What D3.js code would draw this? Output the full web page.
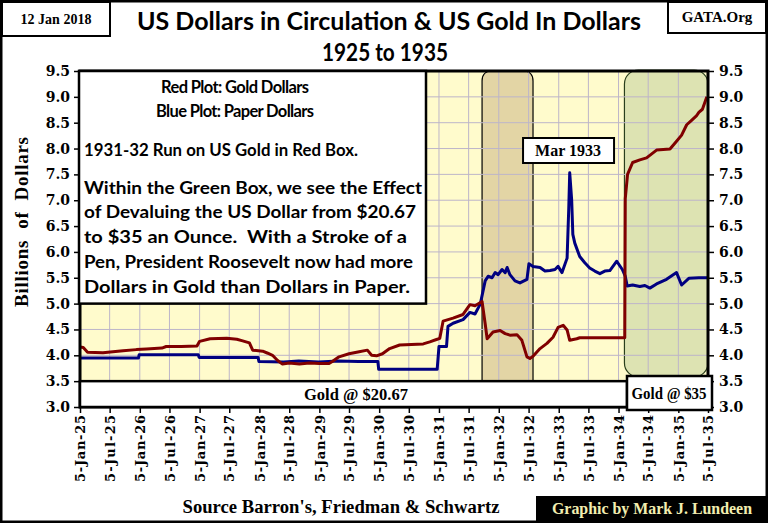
<!DOCTYPE html>
<html>
<head>
<meta charset="utf-8">
<script src="https://cdn.jsdelivr.net/npm/d3@7"></script>
<style>
  body { margin: 0; background: #fff; }
  svg { display: block; }
</style>
</head>
<body>
<div id="chart"></div>
<script>
// gold dollars (red plot), billions
var goldDates = ["1925-01-05","1925-01-25","1925-02-20","1925-05-25","1925-07-25","1925-09-25","1925-12-15",
  "1926-02-15","1926-05-20","1926-06-15","1926-09-15","1926-12-20","1927-01-05","1927-03-10","1927-06-20",
  "1927-08-20","1927-09-25","1927-11-05","1927-11-25","1928-01-25","1928-02-25","1928-03-25","1928-04-25",
  "1928-05-25","1928-07-05","1928-09-05","1928-11-05","1929-01-05","1929-03-05","1929-03-25","1929-05-05",
  "1929-07-05","1929-09-05","1929-10-25","1929-11-20","1929-12-20","1930-01-25","1930-03-10","1930-05-10",
  "1930-10-01","1930-11-10","1930-12-25","1931-01-10","1931-01-30","1931-04-01","1931-06-01","1931-07-13",
  "1931-08-13","1931-09-25","1931-10-14","1931-10-26","1931-12-01","1932-01-13","1932-02-13","1932-03-13",
  "1932-04-25","1932-05-25","1932-06-25","1932-07-13","1932-08-01","1932-09-13","1932-10-25","1932-12-01",
  "1933-01-01","1933-02-01","1933-02-25","1933-03-13","1933-04-25","1933-05-13","1934-02-12","1934-02-15",
  "1934-03-01","1934-04-01","1934-05-15","1934-06-25","1934-08-25","1934-11-15","1934-12-25","1935-01-25",
  "1935-02-25","1935-03-25","1935-04-25","1935-05-10","1935-06-01","1935-06-28"];
var goldValues = [4.16,4.15,4.06,4.05,4.07,4.09,4.11,
  4.12,4.14,4.17,4.17,4.18,4.27,4.32,4.33,
  4.31,4.28,4.24,4.10,4.08,4.04,4.00,3.90,
  3.83,3.85,3.83,3.85,3.84,3.84,3.88,3.97,
  4.03,4.07,4.10,4.00,3.99,4.03,4.13,4.20,
  4.22,4.26,4.31,4.33,4.66,4.72,4.79,4.98,
  4.96,5.04,4.61,4.32,4.45,4.48,4.42,4.39,
  4.40,4.29,3.97,3.94,3.98,4.13,4.23,4.35,
  4.54,4.58,4.49,4.29,4.32,4.34,4.34,7.03,
  7.50,7.73,7.78,7.82,7.97,7.99,8.14,8.26,
  8.46,8.54,8.63,8.70,8.76,9.00];

// paper dollars (blue plot), billions
var paperDates = ["1925-01-05","1925-12-28","1926-01-01","1926-12-28","1927-01-02","1927-12-28","1928-01-02",
  "1928-06-01","1928-09-01","1929-01-01","1929-05-01","1929-09-01","1929-12-28","1930-01-02","1930-12-25",
  "1931-01-05","1931-02-20","1931-03-01","1931-04-01","1931-06-01","1931-07-13","1931-08-13","1931-09-14",
  "1931-10-14","1931-11-01","1931-11-25","1931-12-14","1932-01-01","1932-01-25","1932-02-13","1932-02-25",
  "1932-03-13","1932-04-13","1932-05-13","1932-06-13","1932-06-25","1932-07-07","1932-08-01","1932-09-13",
  "1932-10-13","1932-11-13","1932-12-13","1933-01-01","1933-01-25","1933-02-25","1933-03-07","1933-03-13",
  "1933-03-25","1933-04-01","1933-04-13","1933-05-13","1933-06-13","1933-07-13","1933-08-13","1933-09-13",
  "1933-10-13","1933-11-13","1933-12-25","1934-01-28","1934-02-15","1934-02-27","1934-04-01","1934-05-15",
  "1934-06-15","1934-07-15","1934-08-25","1934-10-25","1934-12-25","1935-01-25","1935-03-10","1935-05-10",
  "1935-07-01"];
var paperValues = [3.95,3.95,4.01,4.01,3.96,3.96,3.88,
  3.87,3.89,3.87,3.89,3.88,3.88,3.73,3.73,
  4.17,4.17,4.56,4.62,4.69,4.83,4.80,4.99,
  5.44,5.53,5.50,5.60,5.56,5.66,5.60,5.70,
  5.56,5.44,5.40,5.45,5.47,5.77,5.72,5.70,
  5.63,5.64,5.66,5.72,5.60,5.88,6.83,7.53,
  7.00,6.34,6.17,5.91,5.79,5.69,5.63,5.58,
  5.63,5.64,5.82,5.66,5.53,5.34,5.36,5.33,
  5.35,5.30,5.38,5.47,5.60,5.36,5.49,5.50,
  5.50];

var xTickDates = ["1925-01-05","1925-07-05","1926-01-05","1926-07-05","1927-01-05","1927-07-05","1928-01-05",
  "1928-07-05","1929-01-05","1929-07-05","1930-01-05","1930-07-05","1931-01-05","1931-07-05","1932-01-05",
  "1932-07-05","1933-01-05","1933-07-05","1934-01-05","1934-07-05","1935-01-05","1935-07-05"];
var yTicks = [3.0,3.5,4.0,4.5,5.0,5.5,6.0,6.5,7.0,7.5,8.0,8.5,9.0,9.5];

var redBoxDates = ["1931-09-25","1932-08-01"];
var greenBoxDates = ["1934-02-10","1935-07-05"];
var markDate = "1933-03-15";

var noteLines = ["1931-32 Run on US Gold in Red Box.",
  "Within the Green Box, we see the Effect",
  "of Devaluing the US Dollar from $20.67",
  "to $35 an Ounce.  With a Stroke of a",
  "Pen, President Roosevelt now had more",
  "Dollars in Gold than Dollars in Paper."];

var parse = d3.timeParse("%Y-%m-%d");
var fmtTick = d3.timeFormat("%-d-%b-%y");

var gold = goldDates.map(function(d, i) { return {date: parse(d), value: goldValues[i]}; });
var paper = paperDates.map(function(d, i) { return {date: parse(d), value: paperValues[i]}; });

var W = 768, H = 523;
var pL = 80, pR = 708, pT = 71, pB = 407;
var serif = "'Liberation Serif', 'DejaVu Serif', serif";
var serifWide = "'DejaVu Serif', 'Liberation Serif', serif";
var sans = "Lato, 'Open Sans', sans-serif";

var svg = d3.select("#chart").append("svg")
    .attr("width", W)
    .attr("height", H);

svg.append("rect").attr("width", W).attr("height", H).attr("fill", "#fff");

var x = d3.scaleTime()
    .domain([parse(xTickDates[0]), parse(xTickDates[xTickDates.length - 1])])
    .range([pL, pR]);
var y = d3.scaleLinear()
    .domain([3, 9.5])
    .range([pB, pT]);

// plot background
svg.append("rect")
    .attr("x", pL).attr("y", pT)
    .attr("width", pR - pL).attr("height", pB - pT)
    .attr("fill", "#fffbcc");

// red box (1931-32 run on gold)
var rx0 = x(parse(redBoxDates[0])), rx1 = x(parse(redBoxDates[1]));
svg.append("path")
    .attr("d", "M" + rx0 + "," + y(3.5) + "V" + (pT + 10) + "Q" + rx0 + "," + pT + " " + (rx0 + 10) + "," + pT +
      "H" + (rx1 - 10) + "Q" + rx1 + "," + pT + " " + rx1 + "," + (pT + 10) + "V" + y(3.5))
    .attr("fill", "#e3d5a5")
    .attr("stroke", "#000")
    .attr("stroke-width", 1.2);

// green box (devaluation)
var gx0 = x(parse(greenBoxDates[0])), gx1 = x(parse(greenBoxDates[1]));
svg.append("rect")
    .attr("x", gx0).attr("y", pT - 1)
    .attr("width", gx1 - gx0).attr("height", y(3.58) - pT + 1)
    .attr("rx", 14)
    .attr("fill", "#dde3b2")
    .attr("stroke", "#2a3f1c")
    .attr("stroke-width", 1.2);

// grid
var grid = svg.append("g").attr("stroke", "#bdb5c9").attr("stroke-width", 1);
grid.selectAll("line.v")
  .data(xTickDates.slice(1, -1))
  .enter().append("line")
    .attr("x1", function(d) { return x(parse(d)); })
    .attr("x2", function(d) { return x(parse(d)); })
    .attr("y1", pT).attr("y2", pB);
grid.selectAll("line.h")
  .data(yTicks.slice(1, -1))
  .enter().append("line")
    .attr("x1", pL).attr("x2", pR)
    .attr("y1", function(d) { return y(d); })
    .attr("y2", function(d) { return y(d); });

// lines
var line = d3.line()
    .x(function(d) { return x(d.date); })
    .y(function(d) { return y(d.value); });

svg.append("path")
    .datum(paper)
    .attr("fill", "none")
    .attr("stroke", "#000080")
    .attr("stroke-width", 3)
    .attr("stroke-linejoin", "round")
    .attr("d", line);

svg.append("path")
    .datum(gold)
    .attr("fill", "none")
    .attr("stroke", "#800000")
    .attr("stroke-width", 3)
    .attr("stroke-linejoin", "round")
    .attr("d", line);

// axes
var tickFont = function(g) {
  g.select(".domain").remove();
  g.selectAll("line").attr("stroke", "#000").attr("stroke-width", 1.5);
  g.selectAll("text").attr("font-family", serifWide).attr("font-weight", "bold")
    .attr("font-size", 14).attr("fill", "#000");
};

svg.append("g")
    .attr("transform", "translate(" + pL + ",0)")
    .call(d3.axisLeft(y).tickValues(yTicks).tickFormat(d3.format(".1f")).tickSize(6).tickPadding(4))
    .call(tickFont);

svg.append("g")
    .attr("transform", "translate(" + pR + ",0)")
    .call(d3.axisRight(y).tickValues(yTicks).tickFormat(d3.format(".1f")).tickSize(6).tickPadding(5))
    .call(tickFont);

var xAxis = svg.append("g")
    .attr("transform", "translate(0," + pB + ")")
    .call(d3.axisBottom(x).tickValues(xTickDates.map(parse)).tickFormat(fmtTick).tickSize(6))
    .call(tickFont);
xAxis.selectAll("text")
    .attr("transform", "rotate(-90)")
    .attr("text-anchor", "end")
    .attr("x", -8)
    .attr("y", 0)
    .attr("dy", "0.36em")
    .attr("font-size", 13)
    .attr("textLength", 67)
    .attr("lengthAdjust", "spacing");

// plot frame
svg.append("rect")
    .attr("x", pL).attr("y", pT)
    .attr("width", pR - pL).attr("height", pB - pT)
    .attr("fill", "none")
    .attr("stroke", "#000")
    .attr("stroke-width", 3);

// note box
svg.append("rect")
    .attr("x", pL - 1).attr("y", pT)
    .attr("width", 427 - pL).attr("height", y(5.0) - pT)
    .attr("fill", "#fff").attr("stroke", "#000").attr("stroke-width", 2.5);

svg.append("text")
    .attr("x", 235).attr("y", 93)
    .attr("text-anchor", "middle")
    .attr("font-family", sans).attr("font-weight", "bold").attr("font-size", 16.5)
    .attr("textLength", 148)
    .text("Red Plot: Gold Dollars");
svg.append("text")
    .attr("x", 235).attr("y", 117)
    .attr("text-anchor", "middle")
    .attr("font-family", sans).attr("font-weight", "bold").attr("font-size", 16.5)
    .attr("textLength", 158)
    .text("Blue Plot: Paper Dollars");

var noteY = [156, 194, 218, 243, 268, 293];
var noteW = [274, 338, 332, 323, 329, 326];
svg.selectAll("text.note")
  .data(noteLines)
  .enter().append("text")
    .attr("class", "note")
    .attr("x", 84)
    .attr("y", function(d, i) { return noteY[i]; })
    .attr("font-family", sans).attr("font-weight", "bold").attr("font-size", 16.5)
    .attr("textLength", function(d, i) { return noteW[i]; })
    .attr("lengthAdjust", "spacingAndGlyphs")
    .style("white-space", "pre")
    .text(function(d) { return d; });

// bottom boxes
svg.append("rect")
    .attr("x", pL).attr("y", y(3.5))
    .attr("width", 627 - pL).attr("height", pB - y(3.5))
    .attr("fill", "#fff").attr("stroke", "#000").attr("stroke-width", 2.5);
svg.append("text")
    .attr("x", 356).attr("y", 400)
    .attr("text-anchor", "middle")
    .attr("font-family", serif).attr("font-weight", "bold").attr("font-size", 16)
    .attr("textLength", 104).attr("lengthAdjust", "spacingAndGlyphs")
    .text("Gold @ $20.67");

svg.append("rect")
    .attr("x", 627).attr("y", 376)
    .attr("width", 85).attr("height", 34)
    .attr("fill", "#fff").attr("stroke", "#000").attr("stroke-width", 2.5);
svg.append("text")
    .attr("x", 669).attr("y", 399)
    .attr("text-anchor", "middle")
    .attr("font-family", serif).attr("font-weight", "bold").attr("font-size", 16)
    .attr("textLength", 75).attr("lengthAdjust", "spacingAndGlyphs")
    .text("Gold @ $35");

// Mar 1933 label
var mx = x(parse(markDate));
svg.append("rect")
    .attr("x", mx - 47).attr("y", 138)
    .attr("width", 91).attr("height", 25)
    .attr("fill", "#fff").attr("stroke", "#000").attr("stroke-width", 2);
svg.append("text")
    .attr("x", mx - 2).attr("y", 156)
    .attr("text-anchor", "middle")
    .attr("font-family", serif).attr("font-weight", "bold").attr("font-size", 16)
    .attr("textLength", 66).attr("lengthAdjust", "spacingAndGlyphs")
    .text("Mar 1933");

// titles
svg.append("text")
    .attr("x", 389).attr("y", 30)
    .attr("text-anchor", "middle")
    .attr("font-family", sans).attr("font-weight", "bold").attr("font-size", 25)
    .attr("textLength", 504).attr("lengthAdjust", "spacingAndGlyphs")
    .text("US Dollars in Circulation & US Gold In Dollars");
svg.append("text")
    .attr("x", 385).attr("y", 61)
    .attr("text-anchor", "middle")
    .attr("font-family", sans).attr("font-weight", "bold").attr("font-size", 25)
    .attr("textLength", 126).attr("lengthAdjust", "spacingAndGlyphs")
    .text("1925 to 1935");

// y-axis title
svg.append("text")
    .attr("transform", "translate(28,222) rotate(-90)")
    .attr("text-anchor", "middle")
    .attr("font-family", serif).attr("font-weight", "bold").attr("font-size", 19)
    .attr("textLength", 170)
    .style("white-space", "pre")
    .text("Billions  of  Dollars");

// corner boxes
svg.append("rect")
    .attr("x", 2).attr("y", 2).attr("width", 108).attr("height", 34)
    .attr("fill", "#fff").attr("stroke", "#000").attr("stroke-width", 2);
svg.append("text")
    .attr("x", 56).attr("y", 24)
    .attr("text-anchor", "middle")
    .attr("font-family", serif).attr("font-weight", "bold").attr("font-size", 14)
    .text("12 Jan 2018");

svg.append("rect")
    .attr("x", 668).attr("y", 2).attr("width", 98).attr("height", 31)
    .attr("fill", "#fff").attr("stroke", "#000").attr("stroke-width", 2);
svg.append("text")
    .attr("x", 717).attr("y", 22)
    .attr("text-anchor", "middle")
    .attr("font-family", serif).attr("font-weight", "bold").attr("font-size", 15)
    .text("GATA.Org");

// footer
svg.append("text")
    .attr("x", 341).attr("y", 513)
    .attr("text-anchor", "middle")
    .attr("font-family", serif).attr("font-weight", "bold").attr("font-size", 18)
    .attr("textLength", 317).attr("lengthAdjust", "spacingAndGlyphs")
    .text("Source Barron's, Friedman & Schwartz");

svg.append("rect")
    .attr("x", 536).attr("y", 496).attr("width", W - 536).attr("height", H - 496)
    .attr("fill", "#000");
svg.append("text")
    .attr("x", 652).attr("y", 514)
    .attr("text-anchor", "middle")
    .attr("font-family", serif).attr("font-weight", "bold").attr("font-size", 17)
    .attr("fill", "#f2eeb0")
    .attr("textLength", 200).attr("lengthAdjust", "spacingAndGlyphs")
    .text("Graphic by Mark J. Lundeen");

// outer frame
svg.append("rect")
    .attr("x", 1).attr("y", 1).attr("width", W - 2).attr("height", H - 2)
    .attr("fill", "none").attr("stroke", "#000").attr("stroke-width", 3);
</script>
</body>
</html>
